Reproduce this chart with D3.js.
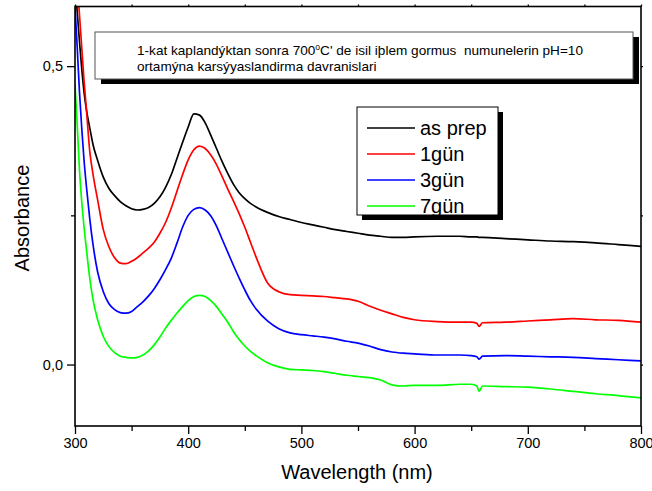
<!DOCTYPE html>
<html><head><meta charset="utf-8">
<script src="https://cdn.jsdelivr.net/npm/d3@7"></script>
<style>body{margin:0;background:#fff}svg{display:block}text{font-family:"Liberation Sans",Arial,sans-serif}</style>
</head><body>
<script>
const wavelengths=[300,302,304,306,308,310,313,316,320,325,330,335,340,345,350,355,360,365,370,375,380,385,390,395,400,405,410,415,420,425,430,435,440,445,450,455,460,470,480,490,500,510,520,530,540,550,560,570,580,590,600,620,640,650,655,657,660,680,700,720,740,760,780,800];
const asPrep=[0.64,0.59,0.54,0.495,0.456,0.428,0.397,0.368,0.342,0.314,0.295,0.283,0.273,0.266,0.261,0.259,0.260,0.263,0.270,0.281,0.297,0.318,0.345,0.372,0.398,0.420,0.418,0.405,0.384,0.362,0.340,0.320,0.302,0.288,0.278,0.270,0.264,0.255,0.248,0.243,0.238,0.234,0.230,0.226,0.223,0.220,0.217,0.215,0.213,0.213,0.214,0.215,0.215,0.214,0.214,0.213,0.213,0.211,0.209,0.207,0.206,0.204,0.201,0.198];
const gun1=[0.70,0.64,0.585,0.53,0.475,0.43,0.358,0.318,0.276,0.226,0.197,0.179,0.170,0.169,0.173,0.179,0.187,0.195,0.205,0.220,0.238,0.262,0.290,0.318,0.343,0.360,0.366,0.362,0.351,0.335,0.315,0.294,0.274,0.253,0.230,0.205,0.180,0.137,0.122,0.117,0.116,0.115,0.114,0.112,0.110,0.106,0.098,0.091,0.085,0.079,0.075,0.072,0.071,0.071,0.069,0.064,0.070,0.071,0.073,0.075,0.077,0.075,0.074,0.071];
const gun3=[0.60,0.53,0.455,0.395,0.342,0.300,0.245,0.200,0.155,0.122,0.102,0.092,0.087,0.086,0.089,0.097,0.105,0.115,0.127,0.142,0.159,0.178,0.203,0.230,0.250,0.260,0.263,0.259,0.249,0.232,0.210,0.188,0.166,0.145,0.125,0.107,0.093,0.073,0.060,0.053,0.050,0.048,0.046,0.043,0.039,0.036,0.031,0.025,0.021,0.019,0.018,0.016,0.016,0.015,0.013,0.009,0.014,0.015,0.014,0.013,0.012,0.010,0.008,0.006];
const gun7=[0.47,0.40,0.325,0.272,0.230,0.195,0.145,0.108,0.075,0.047,0.030,0.020,0.014,0.012,0.011,0.012,0.016,0.023,0.033,0.046,0.061,0.074,0.086,0.097,0.107,0.114,0.116,0.114,0.107,0.097,0.084,0.071,0.055,0.042,0.031,0.022,0.015,0.003,-0.004,-0.008,-0.009,-0.010,-0.012,-0.015,-0.018,-0.020,-0.022,-0.026,-0.034,-0.036,-0.035,-0.035,-0.033,-0.033,-0.036,-0.045,-0.036,-0.037,-0.038,-0.041,-0.045,-0.049,-0.052,-0.056];
const seriesNames=["as prep","1gün","3gün","7gün"];
const seriesColors=["#000000","#ff0000","#0000ff","#00ff00"];
const seriesValues=[asPrep,gun1,gun3,gun7];
const xMajorTicks=[300,400,500,600,700,800];
const xMinorTicks=[350,450,550,650,750];
const yMajorTicks=[0,0.5];
const yMinorTicks=[0.25];
const titleLine1a="1-kat kaplandýktan sonra 700";
const titleLine1b="C' de isil iþlem gormus  numunelerin pH=10";
const titleLine2="ortamýna karsýyaslandirma davranislari";
const xTitle="Wavelength (nm)", yTitle="Absorbance";

const W=652,H=491;
const L=75,R=641,T=6.5,B=426;
const svg=d3.select("body").append("svg").attr("width",W).attr("height",H);
svg.append("rect").attr("width",W).attr("height",H).attr("fill","#fff");
const x=d3.scaleLinear().domain([300,800]).range([L,R]);
const y=d3.scaleLinear().domain([-0.103,0.6]).range([B,T]);

svg.append("clipPath").attr("id","clip").append("rect").attr("x",L).attr("y",T).attr("width",R-L).attr("height",B-T);

const line=d3.line().x((d,i)=>x(wavelengths[i])).y(d=>y(d)).curve(d3.curveMonotoneX);
const g=svg.append("g").attr("clip-path","url(#clip)");
seriesValues.forEach((vals,k)=>{
  g.append("path").attr("d",line(vals)).attr("fill","none").attr("stroke",seriesColors[k]).attr("stroke-width",1.7).attr("stroke-linejoin","round");
});

// axes
const fmt=d=>d3.format(".1f")(d).replace(".",",");
function styleAxis(sel){sel.select(".domain").remove();sel.selectAll(".tick line").attr("stroke","#000").attr("stroke-width",1.3);sel.selectAll("text").attr("font-size",14.5).attr("fill","#000").style("font-family","Liberation Sans, Arial, sans-serif");}
svg.append("g").attr("transform",`translate(0,${B})`).call(d3.axisBottom(x).tickValues(xMajorTicks).tickSize(8).tickPadding(4).tickFormat(d3.format("d"))).call(styleAxis);
svg.append("g").attr("transform",`translate(0,${B})`).call(d3.axisBottom(x).tickValues(xMinorTicks).tickSize(5).tickFormat("")).call(styleAxis);
svg.append("g").attr("transform",`translate(${L},0)`).call(d3.axisLeft(y).tickValues(yMajorTicks).tickSize(8).tickPadding(4).tickFormat(fmt)).call(styleAxis);
svg.append("g").attr("transform",`translate(${L},0)`).call(d3.axisLeft(y).tickValues(yMinorTicks).tickSize(4).tickFormat("")).call(styleAxis);
svg.append("g").attr("transform",`translate(0,${T})`).call(d3.axisTop(x).tickValues(xMajorTicks.concat(xMinorTicks)).tickSize(2).tickFormat("")).call(styleAxis);
svg.append("g").attr("transform",`translate(${R},0)`).call(d3.axisRight(y).tickValues(yMajorTicks.concat(yMinorTicks)).tickSize(2).tickFormat("")).call(styleAxis);
svg.append("rect").attr("x",L).attr("y",T).attr("width",R-L).attr("height",B-T).attr("fill","none").attr("stroke","#000").attr("stroke-width",1.6);

// axis titles
svg.append("text").attr("x",357).attr("y",479).attr("text-anchor","middle").attr("font-size",20).text(xTitle);
svg.append("text").attr("transform","translate(29,218) rotate(-90)").attr("text-anchor","middle").attr("font-size",20).text(yTitle);

// title box
svg.append("rect").attr("x",101).attr("y",37).attr("width",538).attr("height",47).attr("fill","#000");
svg.append("rect").attr("x",95).attr("y",32).attr("width",538).attr("height",47).attr("fill","#fff").attr("stroke","#555").attr("stroke-width",1);
const t1=svg.append("text").attr("x",137).attr("y",55).attr("font-size",13.6).attr("xml:space","preserve").style("white-space","pre");
t1.append("tspan").text(titleLine1a);
t1.append("tspan").attr("font-size",8.5).attr("dy",-5).text("o");
t1.append("tspan").attr("dy",5).text(titleLine1b);
svg.append("text").attr("x",137).attr("y",71).attr("font-size",13.6).text(titleLine2);

// legend
svg.append("rect").attr("x",362).attr("y",112).attr("width",141).attr("height",108).attr("fill","#000");
svg.append("rect").attr("x",357).attr("y",107).attr("width",141).attr("height",108).attr("fill","#fff").attr("stroke","#000").attr("stroke-width",1);
seriesNames.forEach((n,i)=>{
  const yy=128+i*26;
  svg.append("line").attr("x1",367).attr("x2",415).attr("y1",yy).attr("y2",yy).attr("stroke",seriesColors[i]).attr("stroke-width",1.7);
  svg.append("text").attr("x",420).attr("y",yy+7).attr("font-size",20).text(n);
});
</script>
</body></html>
